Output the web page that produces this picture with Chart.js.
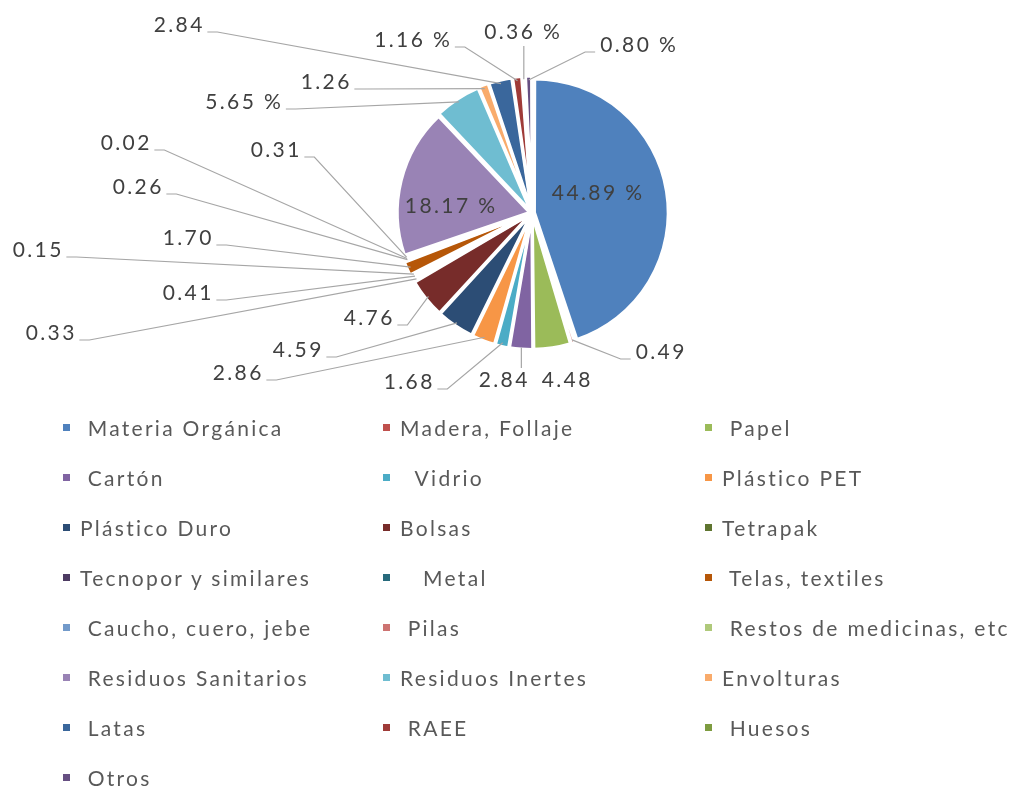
<!DOCTYPE html>
<html>
<head>
<meta charset="utf-8">
<script src="https://cdn.jsdelivr.net/npm/chart.js@4/dist/chart.umd.min.js"></script>
<style>
  html, body { margin: 0; padding: 0; background: #fff; }
  #wrap { position: relative; width: 1010px; height: 789px; overflow: hidden; }
  #chart { position: absolute; left: 0; top: 0; }
  #legend { position: absolute; left: 0; top: 0; width: 1010px; height: 789px; pointer-events: none; }
  .item { position: absolute; height: 30px; display: flex; align-items: center; font-family: Lato, "Open Sans", sans-serif; font-size: 21px; letter-spacing: 2.3px; color: #595959; white-space: pre; }
  .box { width: 7px; height: 7px; margin-right: 10px; flex: none; }
</style>
</head>
<body>
<div id="wrap">
  <canvas id="chart" width="1010" height="789"></canvas>
  <div id="legend"></div>
</div>
<script>
// ---- data ----
const categories = [
  " Materia Orgánica", "Madera, Follaje", " Papel",
  " Cartón", "  Vidrio", "Plástico PET",
  "Plástico Duro", "Bolsas", "Tetrapak",
  "Tecnopor y similares", "   Metal", " Telas, textiles",
  " Caucho, cuero, jebe", " Pilas", " Restos de medicinas, etc",
  " Residuos Sanitarios", "Residuos Inertes", "Envolturas",
  " Latas", " RAEE", " Huesos",
  " Otros"
];
const values = [44.89, 0.49, 4.48, 2.84, 1.68, 2.86, 4.59, 4.76, 0.33, 0.41, 0.15, 1.70,
                0.26, 0.02, 0.31, 18.17, 5.65, 1.26, 2.84, 1.16, 0.36, 0.80];
const valueLabels = ["44.89 %", "0.49", "4.48", "2.84", "1.68", "2.86", "4.59", "4.76", "0.33", "0.41", "0.15", "1.70",
                     "0.26", "0.02", "0.31", "18.17 %", "5.65 %", "1.26", "2.84", "1.16 %", "0.36 %", "0.80 %"];
const colors = ["#4F81BD", "#C0504D", "#9BBB59", "#8064A2", "#4BACC6", "#F79646",
                "#2C4D75", "#772C2A", "#5F7530", "#4D3B62", "#276A7C", "#B65708",
                "#729ACA", "#CD7371", "#AFC97A", "#9983B5", "#6FBDD1", "#F9AB6B",
                "#3A679C", "#9F3B38", "#7E9C40", "#664F82"];

// ---- label layout (label centre, leader style) ----
const labelLayout = [
  [597, 193, "in"], [660, 352, "right"], [566, 380, "none"], [503, 380, "below"],
  [408, 382, "left"], [237, 373, "left"], [297, 350, "left"], [368, 318, "left"],
  [50, 333, "left"], [187, 293, "left"], [37, 250, "left"], [187, 238, "left"],
  [137, 187, "left"], [125, 143, "left"], [275, 150, "left"], [450, 206, "in"],
  [243, 102, "left"], [325, 82, "left"], [178, 25, "left"], [412, 40, "left"],
  [522, 32, "above"], [638, 45, "right"]
];

const LABEL_FONT = '21px Lato, "Open Sans", sans-serif';
const LABEL_SPACING = 2.4;

function spacedWidth(ctx, text) {
  let w = 0;
  for (const ch of text) w += ctx.measureText(ch).width;
  return w + LABEL_SPACING * (text.length - 1);
}
function drawSpaced(ctx, text, cx, cy) {
  const w = spacedWidth(ctx, text);
  let x = cx - w / 2;
  ctx.textAlign = 'left';
  for (const ch of text) {
    ctx.fillText(ch, x, cy);
    x += ctx.measureText(ch).width + LABEL_SPACING;
  }
}

const labelPlugin = {
  id: 'pieLabels',
  afterDatasetsDraw(chart) {
    const ctx = chart.ctx;
    const arcs = chart.getDatasetMeta(0).data;
    ctx.save();
    ctx.font = LABEL_FONT;
    ctx.textBaseline = 'middle';
    arcs.forEach((arc, i) => {
      const [lx, ly, mode] = labelLayout[i];
      const text = valueLabels[i];
      const w = spacedWidth(ctx, text);
      const mid = (arc.startAngle + arc.endAngle) / 2;
      const r = arc.outerRadius + 1;
      const ax = arc.x + Math.cos(mid) * r;
      const ay = arc.y + Math.sin(mid) * r;
      ctx.strokeStyle = '#A6A6A6';
      ctx.lineWidth = 1.2;
      ctx.beginPath();
      if (mode === 'left') {
        const sx = lx + w / 2 + 5, sy = ly + 7;
        ctx.moveTo(sx, sy); ctx.lineTo(sx + 10, sy); ctx.lineTo(ax, ay);
        ctx.stroke();
      } else if (mode === 'right') {
        const sx = lx - w / 2 - 5, sy = ly + 7;
        ctx.moveTo(sx, sy); ctx.lineTo(sx - 10, sy); ctx.lineTo(ax, ay);
        ctx.stroke();
      } else if (mode === 'below') {
        ctx.moveTo(ax, ay + 2); ctx.lineTo(ax, ly - 12);
        ctx.stroke();
      } else if (mode === 'above') {
        ctx.moveTo(ax, ay - 1); ctx.lineTo(ax, ly + 14);
        ctx.stroke();
      }
      ctx.fillStyle = '#404040';
      drawSpaced(ctx, text, lx, ly);
    });
    ctx.restore();
  }
};

new Chart(document.getElementById('chart'), {
  type: 'pie',
  data: {
    labels: categories,
    datasets: [{
      data: values,
      backgroundColor: colors,
      borderColor: '#ffffff',
      borderWidth: 3,
      offset: 10
    }]
  },
  options: {
    responsive: false,
    animation: false,
    radius: 132,
    layout: { padding: { left: 74, right: 20, top: 20, bottom: 383 } },
    plugins: { legend: { display: false }, tooltip: { enabled: false } }
  },
  plugins: [labelPlugin]
});

// ---- legend (3 columns) ----
const legend = document.getElementById('legend');
const colX = [63, 383, 705];
categories.forEach((name, i) => {
  const col = i % 3, row = Math.floor(i / 3);
  const d = document.createElement('div');
  d.className = 'item';
  d.style.left = colX[col] + 'px';
  d.style.top = (427 + row * 50 - 15) + 'px';
  const b = document.createElement('span');
  b.className = 'box';
  b.style.background = colors[i];
  const t = document.createElement('span');
  t.textContent = name;
  d.appendChild(b); d.appendChild(t);
  legend.appendChild(d);
});
</script>
</body>
</html>
